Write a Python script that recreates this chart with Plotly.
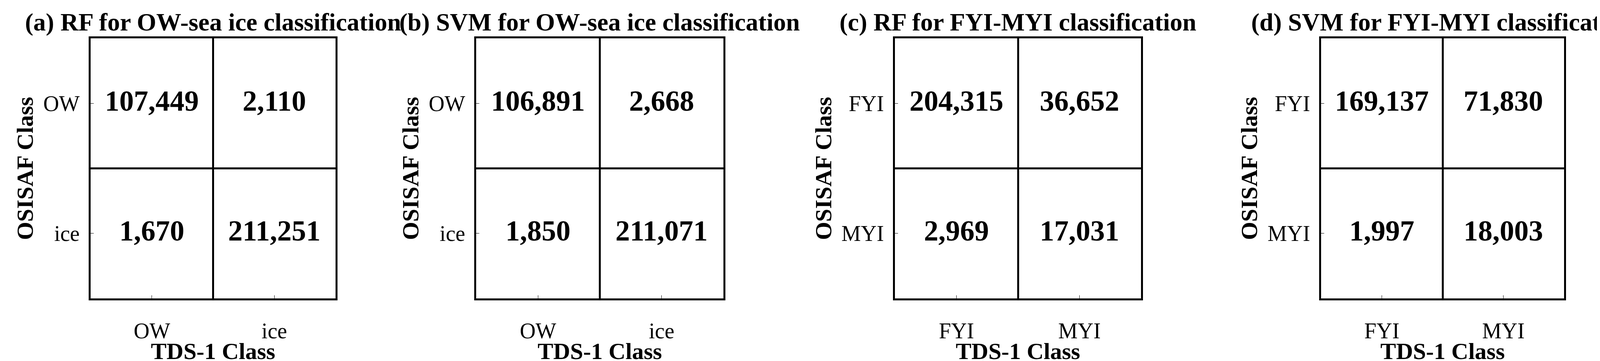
import plotly.graph_objects as go

titles = ["(a) RF for OW-sea ice classification",
          "(b) SVM for OW-sea ice classification",
          "(c) RF for FYI-MYI classification",
          "(d) SVM for FYI-MYI classification"]
class_labels = [["OW", "ice"], ["OW", "ice"], ["FYI", "MYI"], ["FYI", "MYI"]]
# rows = OSISAF class, cols = TDS-1 class
counts_a = [[107449, 2110], [1670, 211251]]
counts_b = [[106891, 2668], [1850, 211071]]
counts_c = [[204315, 36652], [2969, 17031]]
counts_d = [[169137, 71830], [1997, 18003]]
all_counts = [counts_a, counts_b, counts_c, counts_d]

x_domains = [[0.0524, 0.1989], [0.2831, 0.4310], [0.5337, 0.6809], [0.7887, 0.9341]]
y_domain = [0.182, 0.902]
FONT = "Liberation Serif"

fig = go.Figure()
for i, (counts, labels) in enumerate(zip(all_counts, class_labels)):
    n = "" if i == 0 else str(i + 1)
    xs, ys, txt = [], [], []
    for r, row in enumerate(counts):
        for c, v in enumerate(row):
            xs.append(c)
            ys.append(r)
            txt.append(f"<b>{v:,}</b>")
    fig.add_trace(go.Scatter(
        x=xs, y=ys, text=txt, mode="text",
        textfont=dict(family=FONT, size=74, color="black"),
        xaxis="x" + n, yaxis="y" + n, hoverinfo="skip", showlegend=False))
    axis_common = dict(
        tickvals=[0, 1], ticktext=labels, showline=True, linecolor="black",
        linewidth=5, mirror=True, ticks="inside", ticklen=8, tickcolor="black",
        showgrid=False, zeroline=False,
        tickfont=dict(family=FONT, size=56, color="black"),
        minor=dict(tick0=0.5, dtick=1, showgrid=True, gridcolor="black", gridwidth=5))
    fig.update_layout(**{
        "xaxis" + n: dict(axis_common, domain=x_domains[i], range=[-0.5, 1.5],
                          anchor="y" + n, ticklabelstandoff=30,
                          title=dict(text="<b>TDS-1 Class</b>", standoff=4,
                                     font=dict(family=FONT, size=60, color="black"))),
        "yaxis" + n: dict(axis_common, domain=y_domain, range=[1.5, -0.5],
                          anchor="x" + n, ticklabelstandoff=12,
                          title=dict(text="<b>OSISAF Class</b>", standoff=8,
                                     font=dict(family=FONT, size=60, color="black"))),
    })
    fig.add_annotation(text=f"<b>{titles[i]}</b>", xref="paper", yref="paper",
                       x=sum(x_domains[i]) / 2, y=y_domain[1] + 0.005,
                       xanchor="center", yanchor="bottom", showarrow=False,
                       font=dict(family=FONT, size=64, color="black"))

fig.update_layout(width=4278, height=923, margin=dict(l=0, r=0, t=0, b=0),
                  plot_bgcolor="white", paper_bgcolor="white")
fig.write_html("out.html")
